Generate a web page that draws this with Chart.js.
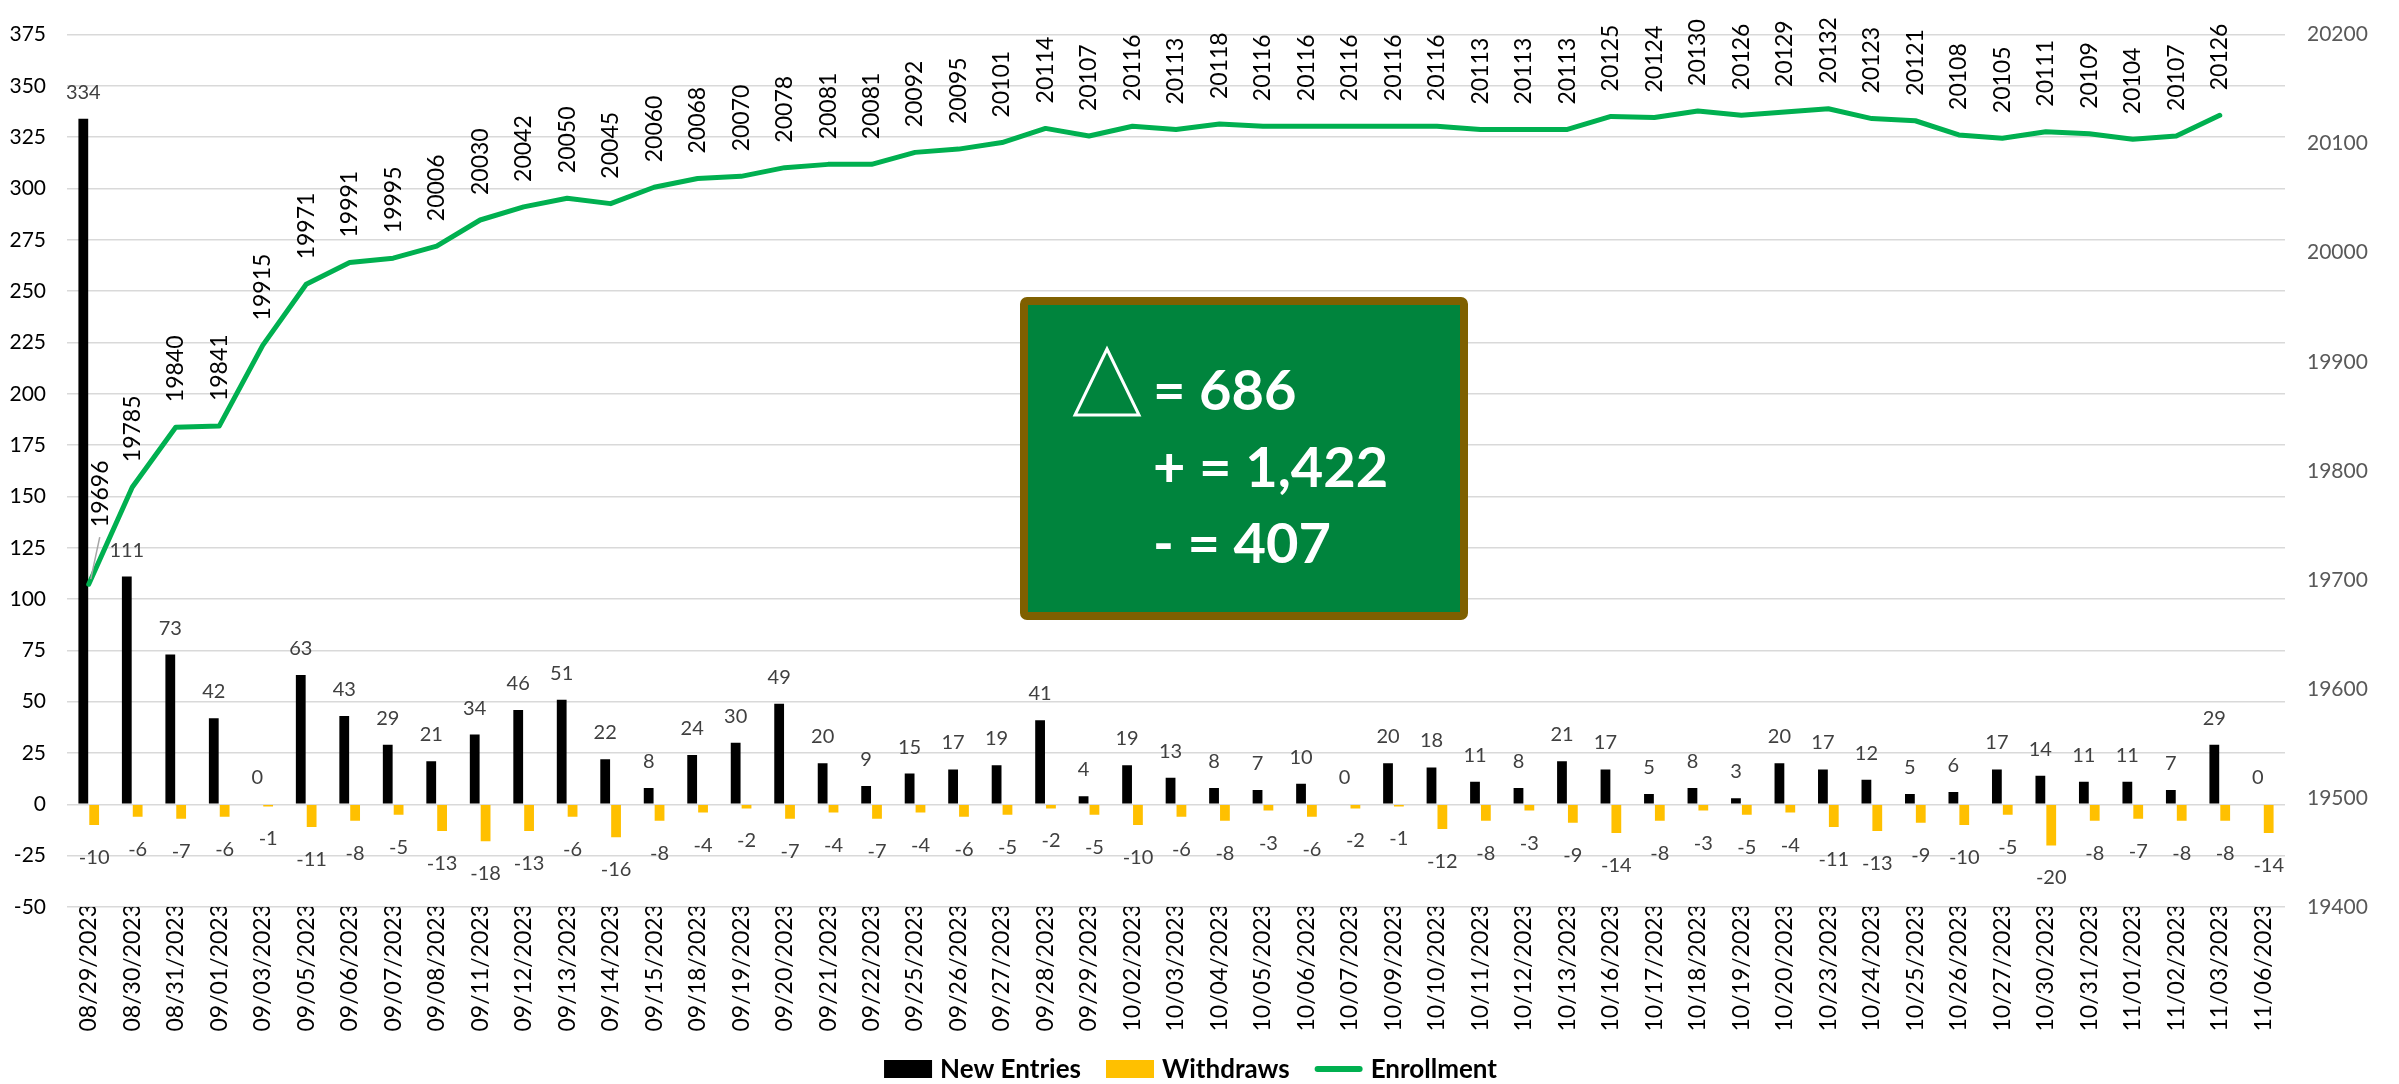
<!DOCTYPE html>
<html>
<head>
<meta charset="utf-8">
<script src="https://cdn.jsdelivr.net/npm/chart.js@4.4.1/dist/chart.umd.min.js"></script>
<style>
  body { margin: 0; background: #fff; }
  canvas { display: block; }
</style>
</head>
<body>
<canvas id="chart" width="2399" height="1084"></canvas>
<script>
// data
const dates = ['08/29/2023', '08/30/2023', '08/31/2023', '09/01/2023', '09/03/2023', '09/05/2023', '09/06/2023',
  '09/07/2023', '09/08/2023', '09/11/2023', '09/12/2023', '09/13/2023', '09/14/2023', '09/15/2023', '09/18/2023',
  '09/19/2023', '09/20/2023', '09/21/2023', '09/22/2023', '09/25/2023', '09/26/2023', '09/27/2023', '09/28/2023',
  '09/29/2023', '10/02/2023', '10/03/2023', '10/04/2023', '10/05/2023', '10/06/2023', '10/07/2023', '10/09/2023',
  '10/10/2023', '10/11/2023', '10/12/2023', '10/13/2023', '10/16/2023', '10/17/2023', '10/18/2023', '10/19/2023',
  '10/20/2023', '10/23/2023', '10/24/2023', '10/25/2023', '10/26/2023', '10/27/2023', '10/30/2023', '10/31/2023',
  '11/01/2023', '11/02/2023', '11/03/2023', '11/06/2023'];

const newEntries = [334, 111, 73, 42, 0, 63, 43, 29, 21, 34, 46, 51, 22, 8, 24, 30, 49, 20, 9, 15, 17, 19, 41, 4,
  19, 13, 8, 7, 10, 0, 20, 18, 11, 8, 21, 17, 5, 8, 3, 20, 17, 12, 5, 6, 17, 14, 11, 11, 7, 29, 0];

const withdraws = [-10, -6, -7, -6, -1, -11, -8, -5, -13, -18, -13, -6, -16, -8, -4, -2, -7, -4, -7, -4, -6, -5, -2, -5,
  -10, -6, -8, -3, -6, -2, -1, -12, -8, -3, -9, -14, -8, -3, -5, -4, -11, -13, -9, -10, -5, -20, -8, -7, -8, -8, -14];

const enrollment = [19696, 19785, 19840, 19841, 19915, 19971, 19991, 19995, 20006, 20030, 20042, 20050, 20045, 20060,
  20068, 20070, 20078, 20081, 20081, 20092, 20095, 20101, 20114, 20107, 20116, 20113, 20118, 20116, 20116, 20116,
  20116, 20116, 20113, 20113, 20113, 20125, 20124, 20130, 20126, 20129, 20132, 20123, 20121, 20108, 20105, 20111,
  20109, 20104, 20107, 20126, null];

const leftAxis = [-50, 375, 25];
const rightAxis = [19400, 20200, 100];

const summaryLines = ['= 686', '+ = 1,422', '- = 407'];

const FONT = 'Lato';

// numbers on bars and above the line
const valueLabels = {
  id: 'valueLabels',
  afterDatasetsDraw(chart) {
    const ctx = chart.ctx;
    ctx.save();
    ctx.font = '20px ' + FONT;
    ctx.fillStyle = '#404040';
    ctx.textAlign = 'center';
    ctx.textBaseline = 'alphabetic';
    chart.getDatasetMeta(0).data.forEach((bar, i) => {
      ctx.fillText(newEntries[i], bar.x, bar.y - 20);
    });
    chart.getDatasetMeta(1).data.forEach((bar, i) => {
      ctx.fillText(withdraws[i], bar.x, bar.y + 39);
    });

    ctx.font = '23px ' + FONT;
    ctx.fillStyle = '#000';
    ctx.textAlign = 'left';
    ctx.textBaseline = 'middle';
    chart.getDatasetMeta(2).data.forEach((pt, i) => {
      if (enrollment[i] == null) return;
      let dx = 0, dy = -25;
      if (i === 0) {
        // first label was pulled aside, with a leader line
        dx = 12; dy = -57;
        ctx.strokeStyle = '#a6a6a6';
        ctx.lineWidth = 1.5;
        ctx.beginPath();
        ctx.moveTo(pt.x + 2, pt.y - 5);
        ctx.lineTo(pt.x + dx - 1, pt.y + dy + 10);
        ctx.stroke();
      }
      ctx.save();
      ctx.translate(pt.x + dx, pt.y + dy);
      ctx.rotate(-Math.PI / 2);
      ctx.fillText(enrollment[i], 0, 0);
      ctx.restore();
    });
    ctx.restore();
  }
};

// green board + legend
const overlay = {
  id: 'overlay',
  afterDraw(chart) {
    const ctx = chart.ctx;
    ctx.save();

    ctx.fillStyle = '#00843D';
    ctx.strokeStyle = '#7F6000';
    ctx.lineWidth = 8;
    ctx.beginPath();
    ctx.roundRect(1024, 301, 440, 315, 3);
    ctx.fill();
    ctx.stroke();

    ctx.strokeStyle = '#fff';
    ctx.lineWidth = 3;
    ctx.beginPath();
    ctx.moveTo(1107, 349);
    ctx.lineTo(1075, 415);
    ctx.lineTo(1139, 415);
    ctx.closePath();
    ctx.stroke();

    ctx.fillStyle = '#fff';
    ctx.font = 'bold 56px ' + FONT;
    ctx.textAlign = 'left';
    ctx.textBaseline = 'alphabetic';
    [410, 487, 563].forEach((y, i) => ctx.fillText(summaryLines[i], 1153, y));

    // legend
    ctx.font = 'bold 26px ' + FONT;
    const items = chart.data.datasets.map(ds => ({
      text: ds.label,
      color: ds.type === 'line' ? ds.borderColor : ds.backgroundColor,
      line: ds.type === 'line'
    }));
    const symW = 48, gap = 8, itemGap = 25;
    let total = 0;
    items.forEach((it, i) => {
      it.w = ctx.measureText(it.text).width;
      total += symW + gap + it.w + (i ? itemGap : 0);
    });
    let x = chart.width / 2 - 9 - total / 2;
    const y = 1069;
    items.forEach(it => {
      if (it.line) {
        ctx.strokeStyle = it.color;
        ctx.lineWidth = 6;
        ctx.lineCap = 'round';
        ctx.beginPath();
        ctx.moveTo(x + 3, y);
        ctx.lineTo(x + symW - 3, y);
        ctx.stroke();
      } else {
        ctx.fillStyle = it.color;
        ctx.fillRect(x, y - 9, symW, 18);
      }
      ctx.fillStyle = '#000';
      ctx.fillText(it.text, x + symW + gap, y + 9);
      x += symW + gap + it.w + itemGap;
    });
    ctx.restore();
  }
};

new Chart(document.getElementById('chart'), {
  data: {
    labels: dates,
    datasets: [
      {
        type: 'bar',
        label: 'New Entries',
        data: newEntries,
        backgroundColor: '#000000',
        yAxisID: 'y',
        order: 1,
        categoryPercentage: 0.5,
        barPercentage: 0.9
      },
      {
        type: 'bar',
        label: 'Withdraws',
        data: withdraws,
        backgroundColor: '#FFC000',
        yAxisID: 'y',
        order: 1,
        categoryPercentage: 0.5,
        barPercentage: 0.9
      },
      {
        type: 'line',
        label: 'Enrollment',
        data: enrollment,
        borderColor: '#00B050',
        backgroundColor: '#00B050',
        borderWidth: 5,
        pointRadius: 0,
        tension: 0,
        borderCapStyle: 'round',
        borderJoinStyle: 'round',
        yAxisID: 'y1',
        order: 0
      }
    ]
  },
  options: {
    responsive: false,
    animation: false,
    layout: { padding: { top: 21, left: 0, right: 0, bottom: 0 } },
    plugins: {
      legend: { display: false },
      tooltip: { enabled: false }
    },
    scales: {
      x: {
        grid: { display: false, drawTicks: false },
        border: { display: false },
        ticks: {
          autoSkip: false,
          minRotation: 90,
          maxRotation: 90,
          padding: -3,
          color: '#000',
          font: { family: FONT, size: 23 }
        },
        afterFit(scale) { scale.height = 177; }
      },
      y: {
        position: 'left',
        min: leftAxis[0],
        max: leftAxis[1],
        ticks: { stepSize: leftAxis[2], padding: 21, color: '#000', font: { family: FONT, size: 21 } },
        grid: { color: '#d9d9d9', lineWidth: 1.5, drawTicks: false },
        border: { display: false },
        afterFit(scale) { scale.width = 67; }
      },
      y1: {
        position: 'right',
        min: rightAxis[0],
        max: rightAxis[1],
        ticks: {
          stepSize: rightAxis[2],
          padding: 22,
          color: '#595959',
          font: { family: FONT, size: 21 },
          callback: v => String(v)
        },
        grid: { drawOnChartArea: false, drawTicks: false },
        border: { display: false },
        afterFit(scale) { scale.width = 114; }
      }
    }
  },
  plugins: [valueLabels, overlay]
});
</script>
</body>
</html>
